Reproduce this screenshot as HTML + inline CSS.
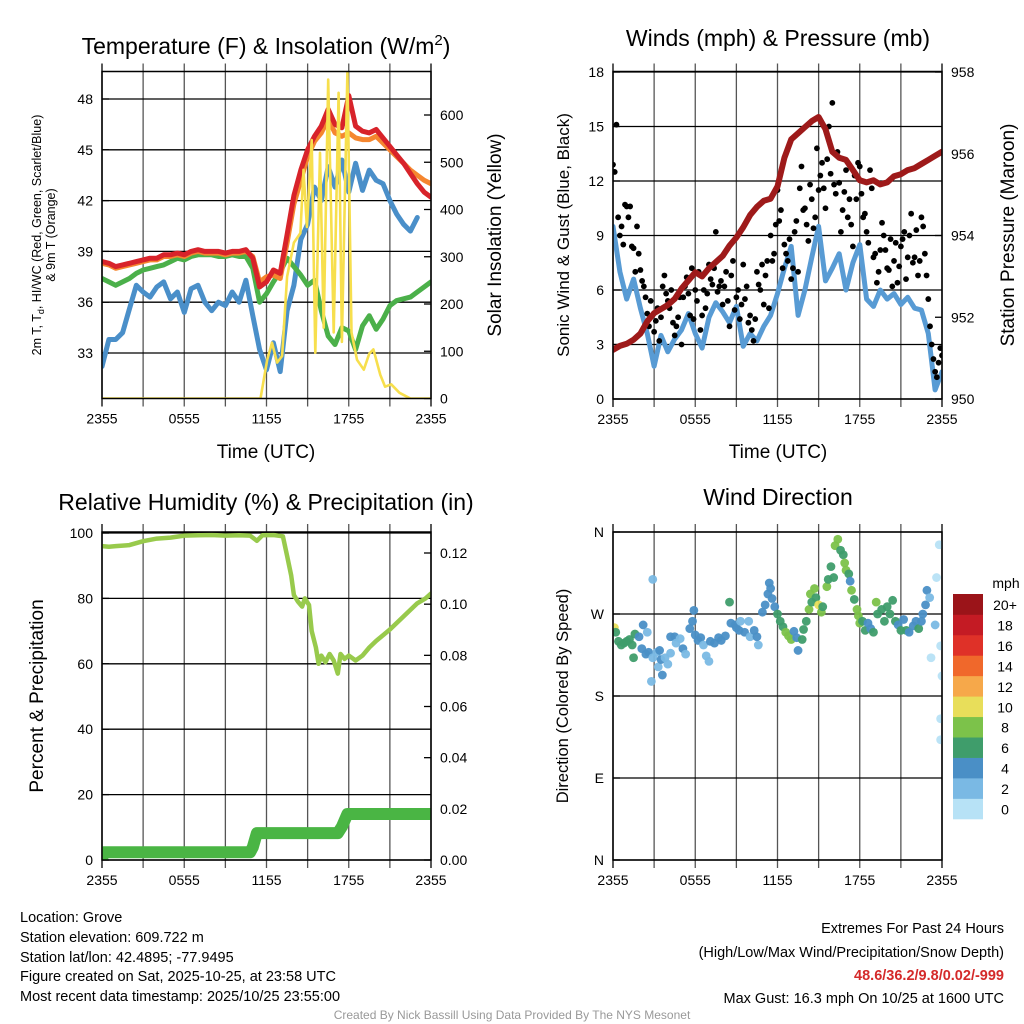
<!DOCTYPE html>
<html><head><meta charset="utf-8"><style>
html,body{margin:0;padding:0;background:#fff;}
svg{display:block;font-family:"Liberation Sans",Arial,sans-serif;}
</style></head><body>
<svg id="chart" width="1024" height="1024" viewBox="0 0 1024 1024" xmlns="http://www.w3.org/2000/svg">
<defs>
<clipPath id="c1"><rect x="102" y="71.5" width="329" height="327"/></clipPath>
<clipPath id="c2"><rect x="613" y="71.5" width="329" height="327.5"/></clipPath>
<clipPath id="c3"><rect x="102" y="532" width="329" height="328"/></clipPath>
<clipPath id="c4"><rect x="613" y="532" width="329" height="328"/></clipPath>
</defs>
<text x="266" y="54" font-size="23" text-anchor="middle">Temperature (F) &amp; Insolation (W/m<tspan dy="-9" font-size="15">2</tspan><tspan dy="9">)</tspan></text>
<text x="778" y="46" font-size="23" text-anchor="middle">Winds (mph) &amp; Pressure (mb)</text>
<text x="266" y="510" font-size="23" text-anchor="middle">Relative Humidity (%) &amp; Precipitation (in)</text>
<text x="778" y="505" font-size="23" text-anchor="middle">Wind Direction</text>
<text x="266" y="458" font-size="19" text-anchor="middle">Time (UTC)</text>
<text x="778" y="458" font-size="19" text-anchor="middle">Time (UTC)</text>
<text transform="translate(41,235) rotate(-90)" font-size="12.5" text-anchor="middle">2m T, T<tspan dy="3" font-size="9">d</tspan><tspan dy="-3">, HI/WC (Red, Green, Scarlet/Blue)</tspan></text>
<text transform="translate(55,235) rotate(-90)" font-size="12.5" text-anchor="middle">&amp; 9m T (Orange)</text>
<text transform="translate(501,235) rotate(-90)" font-size="19" text-anchor="middle">Solar Insolation (Yellow)</text>
<text transform="translate(569,235) rotate(-90)" font-size="17" text-anchor="middle">Sonic Wind &amp; Gust (Blue, Black)</text>
<text transform="translate(1014,235) rotate(-90)" font-size="19" text-anchor="middle">Station Pressure (Maroon)</text>
<text transform="translate(43,696) rotate(-90)" font-size="19" text-anchor="middle">Percent &amp; Precipitation</text>
<text transform="translate(568,696) rotate(-90)" font-size="16.5" text-anchor="middle">Direction (Colored By Speed)</text>
<g font-size="14.5">
<text x="20" y="922">Location: Grove</text>
<text x="20" y="942">Station elevation: 609.722 m</text>
<text x="20" y="962">Station lat/lon: 42.4895; -77.9495</text>
<text x="20" y="981">Figure created on Sat, 2025-10-25, at 23:58 UTC</text>
<text x="20" y="1001">Most recent data timestamp: 2025/10/25 23:55:00</text>
</g>
<g font-size="14.5" text-anchor="end">
<text x="1004" y="933">Extremes For Past 24 Hours</text>
<text x="1004" y="957">(High/Low/Max Wind/Precipitation/Snow Depth)</text>
<text x="1004" y="980" fill="#d42a2a" font-weight="bold">48.6/36.2/9.8/0.02/-999</text>
<text x="1004" y="1003">Max Gust: 16.3 mph On 10/25 at 1600 UTC</text>
</g>
<text x="512" y="1019" font-size="12" fill="#999" text-anchor="middle">Created By Nick Bassill Using Data Provided By The NYS Mesonet</text>
</svg>
<script>
// ---- data ----
const halfHours = [0,0.5,1,1.5,2,2.5,3,3.5,4,4.5,5,5.5,6,6.5,7,7.5,8,8.5,9,9.5,10,10.5,11,11.5,12,12.5,13,13.5,14,14.5,15,15.5,16,16.5,17,17.5,18,18.5,19,19.5,20,20.5,21,21.5,22,22.5,23,23.5,24];
const xTickLabels = ["2355","0555","1155","1755","2355"];
const tempRed = [38.4,38.3,38.1,38.2,38.3,38.4,38.5,38.6,38.6,38.8,38.8,38.9,38.8,39.0,39.1,39.0,39.0,39.0,38.9,39.0,39.0,39.1,38.6,36.9,37.2,37.9,37.7,40.0,42.3,43.8,45.0,45.8,46.4,47.4,46.5,46.3,48.2,46.4,46.1,46.0,46.2,45.7,45.2,44.7,44.2,43.6,43.0,42.5,42.2];
const tempOrange = [38.3,38.2,38.0,38.1,38.2,38.3,38.4,38.5,38.5,38.7,38.7,38.8,38.7,38.9,39.0,38.9,38.9,38.9,38.8,38.9,38.9,39.0,38.7,37.2,37.5,37.6,37.4,39.5,41.8,43.2,44.6,45.5,46.0,46.8,46.0,45.8,46.0,45.7,45.6,45.6,45.8,45.4,45.0,44.6,44.2,43.8,43.5,43.2,43.0];
const tempGreen = [37.4,37.2,37.0,37.2,37.4,37.7,37.9,38.0,38.1,38.2,38.4,38.6,38.5,38.7,38.8,38.8,38.8,38.7,38.7,38.8,38.7,38.7,38.0,36.0,36.5,37.2,37.8,38.6,38.1,37.6,37.0,37.3,35.5,34.0,33.5,34.5,34.3,33.2,34.6,35.2,34.4,35.0,35.8,36.1,36.2,36.3,36.6,36.9,37.2];
const tempBlue = [32.2,33.8,33.8,34.2,35.6,37.0,36.6,36.3,36.9,37.2,36.2,36.6,35.4,36.8,37.0,36.0,35.5,36.0,35.8,36.6,36.0,37.3,35.2,33.2,32.0,33.6,31.9,35.5,37.0,39.7,40.6,42.8,42.0,44.0,42.8,44.4,42.5,44.2,42.6,43.8,43.2,43.0,42.0,41.2,40.6,40.2,41.0];
const tempTicks = [33,36,39,42,45,48];
const solarTicks = [0,100,200,300,400,500,600];
const solarHours = [0,11.56,12.05,12.4,12.77,13.14,13.5,14.0,14.47,14.7,14.95,15.3,15.56,15.9,16.17,16.5,16.9,17.1,17.26,17.5,17.9,18.2,18.6,19.1,19.5,19.8,20.3,20.65,21.1,21.7,22.5,24];
const solarValues = [0,0,82,118,76,90,258,330,350,484,363,547,97,520,150,675,140,420,647,120,690,140,82,61,95,104,50,25,30,12,0,0];
const windSpeed = [9.5,7.0,5.5,6.6,5.0,3.6,1.8,3.5,2.6,3.3,3.8,4.7,3.6,2.8,4.5,5.3,4.8,4.2,5.1,2.9,3.6,3.2,4.0,4.6,5.8,7.2,8.4,4.6,6.0,7.8,9.5,6.5,7.2,8.0,6.0,7.5,8.5,5.5,5.1,6.0,5.5,5.8,5.2,5.6,5.0,4.9,3.6,0.5,1.5];
const pressure = [951.2,951.3,951.35,951.45,951.6,951.9,952.1,952.2,952.3,952.45,952.7,952.9,953.1,953.0,953.2,953.35,953.5,953.75,953.95,954.2,954.5,954.7,954.85,954.9,955.2,955.9,956.35,956.5,956.65,956.8,956.9,956.6,956.05,955.9,955.85,955.6,955.35,955.3,955.35,955.25,955.3,955.45,955.5,955.6,955.65,955.75,955.85,955.95,956.05];
const gustA = [12.9,15.1,9.0,8.5,10.6,10.6,8.3,9.5,7.1,6.2,4.7,5.4,3.7,5.0,4.5,6.8,5.4,6.0,3.5,4.5,3.0,6.2,5.8,7.2,6.0,7.0,4.6,5.0,7.4,6.3,9.2,6.2,5.2,7.0,4.0,7.6,5.6,4.4,7.4,6.2,4.6,3.2,7.0,6.0,5.2,7.6,9.0,8.0,11.5,10.4,8.5,7.6,6.6,9.2,7.0,12.8,10.5,8.7,11.0,10.0,11.5,13.0,10.5,15.0,16.3,11.3,11.9,10.4,12.6,11.0,8.4,11.0,12.8,10.0,9.2,12.6,7.8,6.4,8.2,9.0,7.2,8.8,7.6,6.4,8.4,9.2,7.8,10.2,7.8,6.8,10.0,8.0,5.5,3.0,1.5,2.0,2.4];
const gustB = [12.5,10.0,9.5,10.7,10.0,8.4,7.0,8.0,6.5,5.6,4.0,4.6,4.3,3.2,6.2,5.8,5.0,4.2,4.0,5.6,5.6,6.7,4.6,4.4,5.4,3.8,6.0,5.8,6.6,7.2,5.9,6.5,6.2,5.4,6.8,4.9,6.0,5.2,5.5,4.2,3.8,4.4,6.3,7.4,6.8,5.0,7.6,9.6,9.8,7.2,8.0,8.8,7.2,9.8,11.6,10.4,9.6,11.8,9.4,13.8,12.3,11.6,13.2,12.4,11.8,13.6,9.2,11.4,10.0,9.6,12.3,13.0,11.3,10.2,8.6,11.6,8.0,7.0,9.7,8.2,7.1,6.2,8.6,7.3,8.8,6.6,9.0,7.5,9.3,7.6,9.5,6.8,4.0,2.2,1.2,2.8];
const windTicks = [0,3,6,9,12,15,18];
const pressTicks = [950,952,954,956,958];
const rhHours = [0,0.5,1,2,3,4,5,6,7,8,9,10,10.8,11.3,11.7,12.5,13.2,13.5,13.8,14.0,14.3,14.6,14.8,15.1,15.3,15.6,15.8,16.0,16.3,16.6,16.9,17.2,17.4,17.7,18,18.5,19,19.5,20,21,22,23,23.6,24];
const rhValues = [96,95.8,96,96.3,97.5,98.3,98.6,99.2,99.3,99.4,99.2,99.3,99.2,97.6,99.3,99.4,99.0,93,87,81,79,77.5,80,78,70,65,60,62.5,60.5,63,61,57,63,61.5,62.5,61,62.5,65,67,70.5,74.5,78.5,80,81.5];
const precipHours = [0,0.1,10.8,11.0,11.3,17.2,17.5,17.9,24];
const precipValues = [0,0.003,0.003,0.005,0.0105,0.0105,0.013,0.018,0.018];
const rhTicks = [0,20,40,60,80,100];
const precipTicks = ["0.00","0.02","0.04","0.06","0.08","0.10","0.12"];
const dirHours = [0.1,0.2,0.4,0.6,0.8,1.0,1.2,1.4,1.6,1.5,1.9,2.1,2.2,2.4,2.6,2.5,2.9,2.9,2.8,3.2,3.3,3.5,3.6,3.4,3.8,4.0,4.2,4.2,4.5,4.6,4.9,5.1,5.3,5.6,5.8,5.9,6.0,6.2,6.4,6.6,6.8,7.0,7.1,7.4,7.7,7.9,8.2,8.5,8.6,8.9,9.0,9.2,9.3,9.6,9.9,10.0,10.3,10.6,10.5,10.9,11.1,11.3,11.4,11.5,11.6,11.8,12.0,12.2,12.4,12.6,12.8,13.0,13.2,13.4,13.5,13.8,13.9,14.1,14.3,14.4,14.5,14.7,14.8,15.0,15.2,15.3,15.6,15.7,15.9,16.1,16.2,16.4,16.6,16.8,16.9,17.0,17.2,17.3,17.4,17.6,17.8,17.9,18.0,18.2,18.4,18.6,18.8,19.0,19.2,19.3,19.6,19.8,20.0,20.2,20.4,20.6,20.8,21.0,21.2,21.4,21.6,21.9,22.1,22.3,22.5,22.6,22.8,22.9,23.1,23.2,23.5,23.6,23.8,23.9,24.0,23.9,23.9];
const dirValues = [255,250,240,236,238,240,242,236,248,222,245,232,258,226,228,250,308,222,196,228,212,220,203,230,222,215,227,245,245,238,243,232,226,254,262,274,247,241,244,236,224,218,240,238,244,241,246,283,260,258,255,252,262,250,262,245,252,236,245,272,280,292,304,298,287,278,270,262,256,250,246,242,251,244,230,242,253,262,275,292,283,298,288,280,272,278,300,308,322,310,345,352,340,335,326,318,314,306,296,286,275,268,260,262,252,260,254,250,283,270,275,262,278,270,285,262,258,252,264,252,250,257,262,254,262,270,280,296,288,222,258,310,346,235,202,155,132];
const dirSpeeds = [10,7,6,6,6,7,6,6,7,6,4,4,4,4,4,2,2,2,2,2,2,4,4,4,2,2,2,4,4,2,2,4,2,4,4,4,4,4,4,2,2,2,4,4,4,4,4,6,4,4,4,4,2,4,2,2,4,2,4,4,4,4,4,4,4,4,6,6,6,8,8,8,4,4,4,6,6,6,8,8,6,8,6,10,8,6,8,6,6,6,8,8,6,6,8,8,6,4,8,6,8,8,8,6,6,4,4,6,8,6,6,6,6,6,6,6,4,6,4,6,4,4,4,6,4,4,4,4,2,0,2,0,0,0,0,0,0];
const dirTickLabels = ["N","E","S","W","N"];
const speedBins = ["0","2","4","6","8","10","12","14","16","18","20+"];
const speedColors = ["#b7e2f6","#7ab9e4","#4a8fc6","#3f9d6b","#7cc24a","#e8de5a","#f6a84a","#f0682b","#df3128","#c41b24","#9b1419"];

// ---- helpers ----
const NS = "http://www.w3.org/2000/svg";
const svg = document.getElementById("chart");
function mk(tag, attrs, parent) {
  const e = document.createElementNS(NS, tag);
  for (const k in attrs) e.setAttribute(k, attrs[k]);
  (parent || svg).appendChild(e);
  return e;
}
function lin(d0, d1, r0, r1) { return v => r0 + (v - d0) / (d1 - d0) * (r1 - r0); }
const P = [
  {x0:102,x1:431,y0:71.5,y1:398.5},
  {x0:613,x1:942,y0:71.5,y1:399},
  {x0:102,x1:431,y0:532,y1:860},
  {x0:613,x1:942,y0:532,y1:860}
];
const xs = P.map(p => lin(0, 24, p.x0, p.x1));
const yTemp = lin(33, 48, 353, 99);
const ySolar = lin(0, 600, 398.5, 115);
const yWind = lin(0, 18, 399, 72);
const yPress = lin(950, 958, 399, 72);
const yRH = lin(0, 100, 860, 533);
const yPrecip = lin(0, 0.12, 860, 553);
const yDir = lin(0, 360, 860, 532);

function pathFrom(hours, vals, xf, yf) {
  let d = "";
  for (let i = 0; i < vals.length; i++) {
    if (vals[i] === null || vals[i] === undefined) continue;
    d += (d ? "L" : "M") + xf(hours[i]).toFixed(1) + "," + yf(vals[i]).toFixed(1);
  }
  return d;
}

// ---- grids, frames, ticks ----
P.forEach((p, pi) => {
  const g = mk("g", {});
  
  
  for (let k = 0; k <= 8; k++) {
    const x = xs[pi](k * 3);
    const l = mk("line", {x1:x, x2:x, y1:p.y0 - 8, y2:p.y1 + 8, stroke: (k === 0 || k === 8) ? "#000" : "#555", "stroke-width":1.3}, g);
    
    
  }
  for (let k = 0; k < xTickLabels.length; k++) {
    const t = mk("text", {x: xs[pi](k * 6), y: p.y1 + 25, "font-size": 14, "text-anchor": "middle"}, g);
    t.textContent = xTickLabels[k];
    
    
  }
});

function hGrid(pi, ticks, yf, labels, side) {
  const p = P[pi];
  ticks.forEach((v, i) => {
    const y = yf(v);
    if (side === "left") {
      const l = mk("line", {x1:p.x0, x2:p.x1, y1:y, y2:y, stroke:"#000", "stroke-width":1.3});
      
      
    }
    const t = mk("text", {x: side === "left" ? p.x0 - 9 : p.x1 + 9, y: y + 5, "font-size": 14, "text-anchor": side === "left" ? "end" : "start"});
    t.textContent = labels ? labels[i] : v;
    
    
    const tk = mk("line", {x1: side === "left" ? p.x0 : p.x1 - 7, x2: side === "left" ? p.x0 + 7 : p.x1, y1:y, y2:y, stroke:"#000", "stroke-width":1.3});
    
    
  });
}
hGrid(0, tempTicks, yTemp, null, "left");
hGrid(0, solarTicks, ySolar, null, "right");
hGrid(1, windTicks, yWind, null, "left");
hGrid(1, pressTicks, yPress, null, "right");
hGrid(2, rhTicks, yRH, null, "left");
hGrid(2, precipTicks.map(Number), yPrecip, precipTicks, "right");
hGrid(3, [0,90,180,270,360], yDir, dirTickLabels, "left");

// ---- panel 1 series ----
const g1 = mk("g", {"clip-path":"url(#c1)", fill:"none", "stroke-linejoin":"round", "stroke-linecap":"round"});


const sBlue = mk("path", {d: pathFrom(halfHours, tempBlue, xs[0], yTemp), stroke:"#4a8fc9", "stroke-width":5}, g1);


const sGreen = mk("path", {d: pathFrom(halfHours, tempGreen, xs[0], yTemp), stroke:"#4bb04a", "stroke-width":5}, g1);


const sOrange = mk("path", {d: pathFrom(halfHours, tempOrange, xs[0], yTemp), stroke:"#f5862f", "stroke-width":5}, g1);


const sRed = mk("path", {d: pathFrom(halfHours, tempRed, xs[0], yTemp), stroke:"#d8232a", "stroke-width":5}, g1);


const sSolar = mk("path", {d: pathFrom(solarHours, solarValues, xs[0], ySolar), stroke:"#f7df4d", "stroke-width":2.6}, g1);



// ---- panel 2 series ----
const g2 = mk("g", {"clip-path":"url(#c2)", "stroke-linejoin":"round", "stroke-linecap":"round"});


const sWind = mk("path", {d: pathFrom(halfHours, windSpeed, xs[1], yWind), stroke:"#589bd4", "stroke-width":5, fill:"none"}, g2);


gustA.forEach((v, i) => {
  const c = mk("circle", {cx: xs[1](i * 0.25), cy: yWind(v), r: 2.9, fill: "#000"}, g2);
  
  
});
gustB.forEach((v, i) => {
  const c = mk("circle", {cx: xs[1](0.125 + i * 0.25), cy: yWind(v), r: 2.9, fill: "#000"}, g2);
  
  
});
const sPress = mk("path", {d: pathFrom(halfHours, pressure, xs[1], yPress), stroke:"#9e1a1a", "stroke-width":6, fill:"none"}, g2);



// ---- panel 3 series ----
const g3 = mk("g", {"clip-path":"url(#c3)", fill:"none", "stroke-linejoin":"round", "stroke-linecap":"round"});


const sRH = mk("path", {d: pathFrom(rhHours, rhValues, xs[2], yRH), stroke:"#98ca4c", "stroke-width":4.5}, g3);


const sPrecip = mk("path", {d: pathFrom(precipHours, precipValues, xs[2], yPrecip), stroke:"#4ab544", "stroke-width":12}, g3);



// ---- panel 4 series ----
const g4 = mk("g", {"clip-path":"url(#c4)"});


dirValues.forEach((v, i) => {
  const bin = Math.min(10, Math.floor(dirSpeeds[i] / 2));
  const c = mk("circle", {cx: xs[3](dirHours[i]), cy: yDir(v), r: 4.4, fill: speedColors[bin], "fill-opacity": 0.95}, g4);
  
  
});

// ---- colorbar ----
const cb = mk("g", {});


const mph = mk("text", {x: 1006, y: 588, "font-size": 14, "text-anchor": "middle"}, cb);
mph.textContent = "mph";


speedBins.forEach((lab, i) => {
  const top = 594 + (10 - i) * 20.45;
  const r = mk("rect", {x: 953, y: top, width: 30, height: 20.8, fill: speedColors[i]}, cb);
  
  
  const t = mk("text", {x: 1005, y: top + 16, "font-size": 14, "text-anchor": "middle"}, cb);
  t.textContent = lab;
  
  
});

// ---- frames on top ----
P.forEach((p, pi) => {
  const r = mk("rect", {x: p.x0, y: p.y0, width: p.x1 - p.x0, height: p.y1 - p.y0, fill: "none", stroke: "#000", "stroke-width": 1.5});
  
  
});
</script>
</body></html>
